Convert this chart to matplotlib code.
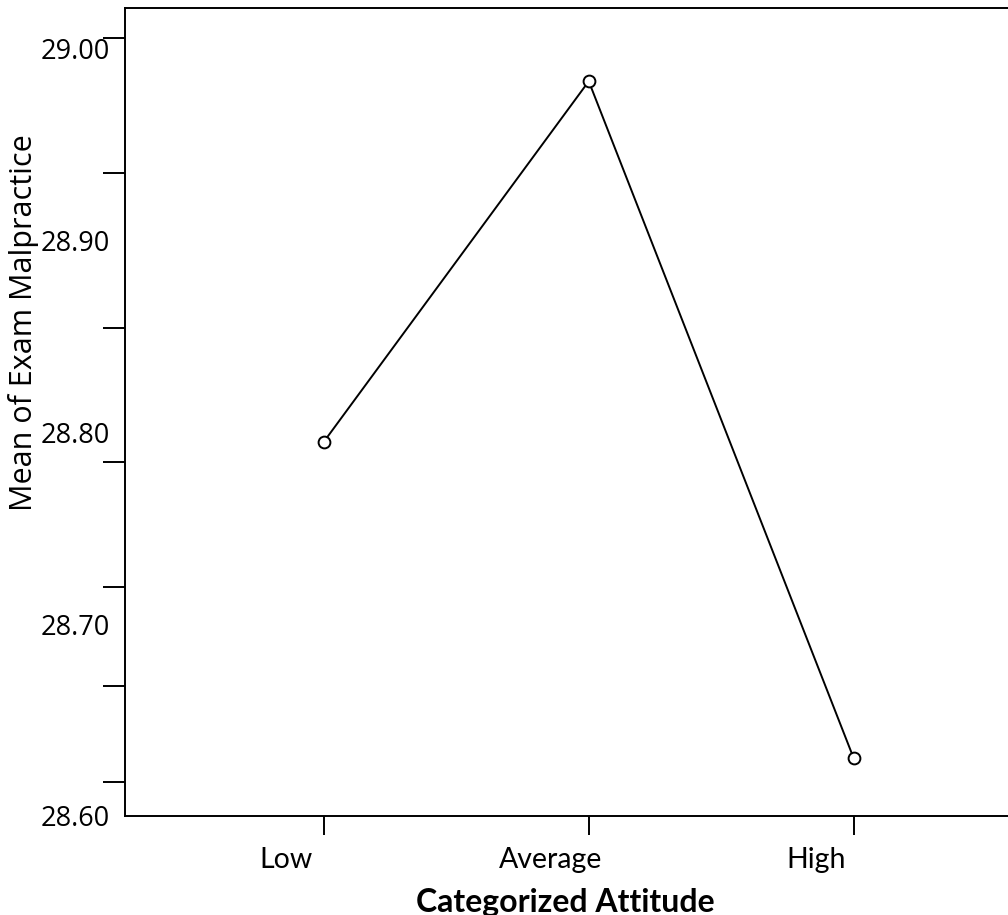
import matplotlib.pyplot as plt
from matplotlib.transforms import ScaledTranslation

# data
categories = ["Low", "Average", "High"]
means = [28.795, 28.983, 28.630]
ytick_values = [29.00, 28.90, 28.80, 28.70, 28.60]
ytick_labels = ["29.00", "28.90", "28.80", "28.70", "28.60"]
# the tick marks in the original don't sit at the labels
ytick_marks = [29.0056, 28.9351, 28.8542, 28.7846, 28.7193, 28.6680, 28.6177]

fig = plt.figure(figsize=(10.08, 9.15), dpi=100)
ax = fig.add_axes([0.124, 0.1082, 0.876, 0.8831])

x = list(range(len(categories)))
ax.plot(x, means, color="black", lw=1.4, marker="o", ms=8.5,
        mfc="white", mec="black", mew=1.4)

ax.set_xlim(-0.75, 2.582)
ax.set_ylim(28.6021, 29.0212)

ax.spines["right"].set_visible(False)
for s in ["left", "bottom", "top"]:
    ax.spines[s].set_linewidth(1.4)

ax.set_yticks(ytick_values)
ax.set_yticklabels(ytick_labels, family="Open Sans", fontsize=19.5)
ax.set_yticks(ytick_marks, minor=True)
ax.tick_params(axis="y", which="major", length=0, pad=11)
ax.tick_params(axis="y", which="minor", length=16, width=1.4)

ax.set_xticks(x)
ax.set_xticklabels(categories, family="Lato", fontsize=20.5)
ax.tick_params(axis="x", which="major", length=14, width=1.4, pad=8)
shift = ScaledTranslation(-0.38, 0, fig.dpi_scale_trans)
for lab in ax.get_xticklabels():
    lab.set_transform(lab.get_transform() + shift)

fig.text(0.561, 0.0142, "Categorized Attitude", family="Lato",
         fontweight="bold", fontsize=23, ha="center", va="center")
fig.text(0.023, 0.647, "Mean of Exam Malpractice", family="Open Sans",
         fontsize=22, rotation=90, ha="center", va="center")

fig.savefig("out.png", dpi=100)
